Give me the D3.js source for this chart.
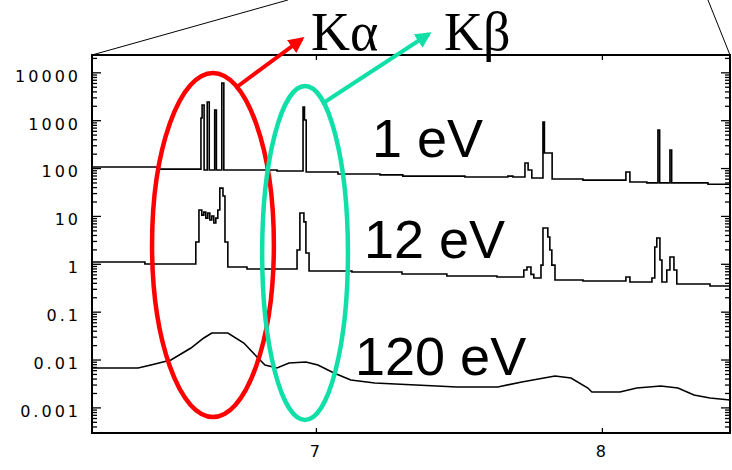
<!DOCTYPE html>
<html>
<head>
<meta charset="utf-8">
<script src="https://cdn.jsdelivr.net/npm/d3@7"></script>
<style>
  body { margin: 0; background: #fff; }
  svg { display: block; }
  .tick text { font-family: "DejaVu Sans", sans-serif; font-size: 16px; letter-spacing: 3px; fill: #000; }
</style>
</head>
<body>
<svg id="chart" width="732" height="470"></svg>
<script>
// spectra: [energy (keV), intensity]
// 1 eV and 12 eV are histograms (value holds until next energy)
const spec1eV = [
  [6.217, 105], [6.444, 95], [6.598, 1110], [6.602, 2080], [6.609, 91], [6.620, 2400],
  [6.627, 91], [6.646, 1630], [6.652, 91], [6.671, 5980], [6.678, 91], [6.864, 87],
  [6.955, 1890], [6.960, 1010], [6.966, 83], [7.077, 75], [7.224, 72], [7.304, 68],
  [7.521, 65], [7.671, 68], [7.689, 65], [7.731, 128], [7.742, 91], [7.755, 62],
  [7.794, 917], [7.799, 206], [7.826, 59], [7.934, 56], [8.084, 83], [8.098, 51],
  [8.157, 49], [8.196, 624], [8.202, 49], [8.238, 238], [8.244, 49], [8.371, 46], [8.448, 46]
];
const spec12eV = [
  [6.217, 1.09], [6.402, 0.99], [6.580, 2.85], [6.591, 13.3], [6.601, 10.4], [6.608, 12],
  [6.615, 9], [6.622, 11.5], [6.629, 8.2], [6.636, 10], [6.643, 7.1], [6.650, 9],
  [6.657, 13.3], [6.664, 38], [6.675, 26], [6.682, 2.85], [6.692, 0.857], [6.759, 0.778],
  [6.934, 1.94], [6.944, 11.5], [6.958, 7.5], [6.965, 1.68], [6.976, 0.707], [7.126, 0.674],
  [7.301, 0.612], [7.458, 0.556], [7.633, 0.53], [7.727, 0.74], [7.738, 0.857], [7.752, 0.6],
  [7.762, 0.505], [7.787, 0.94], [7.794, 5.6], [7.811, 3.63], [7.818, 1.94], [7.825, 0.94],
  [7.836, 0.459], [7.934, 0.437], [8.084, 0.53], [8.098, 0.417], [8.175, 0.505], [8.185, 2.24],
  [8.192, 3.46], [8.203, 1.2], [8.210, 0.417], [8.227, 0.74], [8.238, 1.39], [8.252, 0.74],
  [8.262, 0.379], [8.378, 0.344], [8.448, 0.344]
];
const spec120eV = [
  [6.217, 0.00666], [6.378, 0.00666], [6.423, 0.00769], [6.493, 0.00978], [6.563, 0.0174],
  [6.608, 0.0282], [6.636, 0.0358], [6.692, 0.0358], [6.748, 0.0221], [6.794, 0.0113],
  [6.822, 0.00769], [6.864, 0.00666], [6.906, 0.00847], [6.965, 0.00889], [7.007, 0.00769],
  [7.063, 0.00524], [7.122, 0.00374], [7.206, 0.00324], [7.350, 0.00294], [7.493, 0.00267],
  [7.636, 0.00267], [7.720, 0.0034], [7.836, 0.00453], [7.892, 0.00411], [7.951, 0.00254],
  [7.965, 0.0021], [8.063, 0.0021], [8.122, 0.00254], [8.206, 0.0028], [8.266, 0.00254],
  [8.322, 0.00182], [8.378, 0.00157], [8.448, 0.00143]
];

const yTickValues = [0.001, 0.01, 0.1, 1, 10, 100, 1000, 10000];
const yTickLabels = ['0.001', '0.01', '0.1', '1', '10', '100', '1000', '10000'];
const xTickValues = [7, 8];
const seriesLabels = ['1 eV', '12 eV', '120 eV'];

// highlighted regions: energy range and intensity range
const kAlphaRegion = { e: [6.427, 6.853], v: [9700, 0.00063] };
const kBetaRegion = { e: [6.812, 7.112], v: [5180, 0.000546] };

const svg = d3.select('#chart');
const plotL = 92, plotR = 730, plotT = 55, plotB = 433;

const x = d3.scaleLinear().domain([6.217, 8.448]).range([plotL, plotR]);
const y = d3.scaleLog().domain([Math.pow(10, -3.535), Math.pow(10, 4.362)]).range([plotB, plotT]);

const minorTicks = [];
for (let p = -4; p <= 4; p++) {
  for (let m = 2; m <= 9; m++) {
    const v = m * Math.pow(10, p);
    if (v >= y.domain()[0] && v <= y.domain()[1]) minorTicks.push(v);
  }
}

// zoom lines going up from the frame corners
const topV = y.invert(0);
svg.append('line')
  .attr('x1', x(6.217)).attr('y1', y(y.domain()[1]))
  .attr('x2', x(6.902)).attr('y2', y(topV))
  .attr('stroke', '#000').attr('stroke-width', 1);
svg.append('line')
  .attr('x1', x(8.448)).attr('y1', y(y.domain()[1]))
  .attr('x2', x(8.371)).attr('y2', y(topV))
  .attr('stroke', '#000').attr('stroke-width', 1);

// axes
svg.append('g').attr('transform', `translate(${plotL},0)`)
  .call(d3.axisLeft(y).tickValues(yTickValues).tickSize(-9).tickPadding(11)
    .tickFormat((d, i) => yTickLabels[i]))
  .selectAll('text').attr('dy', '0.55em');
svg.append('g').attr('transform', `translate(${plotL},0)`)
  .call(d3.axisLeft(y).tickValues(minorTicks).tickSize(-5).tickFormat(''));
svg.append('g').attr('transform', `translate(${plotR},0)`)
  .call(d3.axisRight(y).tickValues(yTickValues).tickSize(-9).tickFormat(''));
svg.append('g').attr('transform', `translate(${plotR},0)`)
  .call(d3.axisRight(y).tickValues(minorTicks).tickSize(-5).tickFormat(''));
svg.append('g').attr('transform', `translate(0,${plotB})`)
  .call(d3.axisBottom(x).tickValues(xTickValues).tickSize(-5).tickPadding(13).tickFormat(d3.format('d')));
svg.append('g').attr('transform', `translate(0,${plotT})`)
  .call(d3.axisTop(x).tickValues(xTickValues).tickSize(-5).tickFormat(''));

svg.selectAll('.domain').remove();
svg.selectAll('.tick line').attr('stroke', '#000').attr('stroke-width', 1.3);

svg.append('rect')
  .attr('x', plotL).attr('y', plotT)
  .attr('width', plotR - plotL).attr('height', plotB - plotT)
  .attr('fill', 'none').attr('stroke', '#000').attr('stroke-width', 2);

// spectra
const stepLine = d3.line().x(d => x(d[0])).y(d => y(d[1])).curve(d3.curveStepAfter);
const smoothLine = d3.line().x(d => x(d[0])).y(d => y(d[1]));

svg.append('path').datum(spec1eV).attr('d', stepLine)
  .attr('fill', 'none').attr('stroke', '#000').attr('stroke-width', 1.6);
svg.append('path').datum(spec12eV).attr('d', stepLine)
  .attr('fill', 'none').attr('stroke', '#000').attr('stroke-width', 1.6);
svg.append('path').datum(spec120eV).attr('d', smoothLine)
  .attr('fill', 'none').attr('stroke', '#000').attr('stroke-width', 1.6);

// series labels
const labelPos = [[372, 157], [364, 258], [355, 375]];
svg.selectAll('.serieslabel')
  .data(seriesLabels)
  .enter()
  .append('text')
  .attr('class', 'serieslabel')
  .attr('x', (d, i) => labelPos[i][0])
  .attr('y', (d, i) => labelPos[i][1])
  .attr('font-family', '"Liberation Sans", Arial, sans-serif')
  .attr('font-size', 54)
  .attr('fill', '#000')
  .text(d => d);

// ellipses around the lines
function drawRegion(r, color) {
  const x0 = x(r.e[0]), x1 = x(r.e[1]);
  const y0 = y(r.v[0]), y1 = y(r.v[1]);
  svg.append('ellipse')
    .attr('cx', (x0 + x1) / 2).attr('cy', (y0 + y1) / 2)
    .attr('rx', (x1 - x0) / 2).attr('ry', (y1 - y0) / 2)
    .attr('fill', 'none').attr('stroke', color).attr('stroke-width', 4.5);
}
drawRegion(kAlphaRegion, '#ff0000');
drawRegion(kBetaRegion, '#10e0a8');

// arrows
const defs = svg.append('defs');
function addHead(id, color) {
  defs.append('marker')
    .attr('id', id)
    .attr('viewBox', '0 0 10 10')
    .attr('refX', 8).attr('refY', 5)
    .attr('markerUnits', 'userSpaceOnUse')
    .attr('markerWidth', 16).attr('markerHeight', 16)
    .attr('orient', 'auto')
    .append('path').attr('d', 'M0,0 L10,5 L0,10 z').attr('fill', color);
}
addHead('headRed', '#ff0000');
addHead('headCyan', '#10e0a8');

svg.append('line')
  .attr('x1', x(6.728)).attr('y1', y(5180))
  .attr('x2', x(6.951)).attr('y2', y(49700))
  .attr('stroke', '#ff0000').attr('stroke-width', 4)
  .attr('marker-end', 'url(#headRed)');
svg.append('line')
  .attr('x1', x(7.031)).attr('y1', y(2400))
  .attr('x2', x(7.395)).attr('y2', y(63100))
  .attr('stroke', '#10e0a8').attr('stroke-width', 4)
  .attr('marker-end', 'url(#headCyan)');

svg.append('text')
  .attr('x', 311).attr('y', 50)
  .attr('font-family', '"Liberation Serif", "Times New Roman", serif')
  .attr('font-size', 54)
  .text('Kα');
svg.append('text')
  .attr('x', 444).attr('y', 50)
  .attr('font-family', '"Liberation Serif", "Times New Roman", serif')
  .attr('font-size', 54)
  .text('Kβ');
</script>
</body>
</html>
